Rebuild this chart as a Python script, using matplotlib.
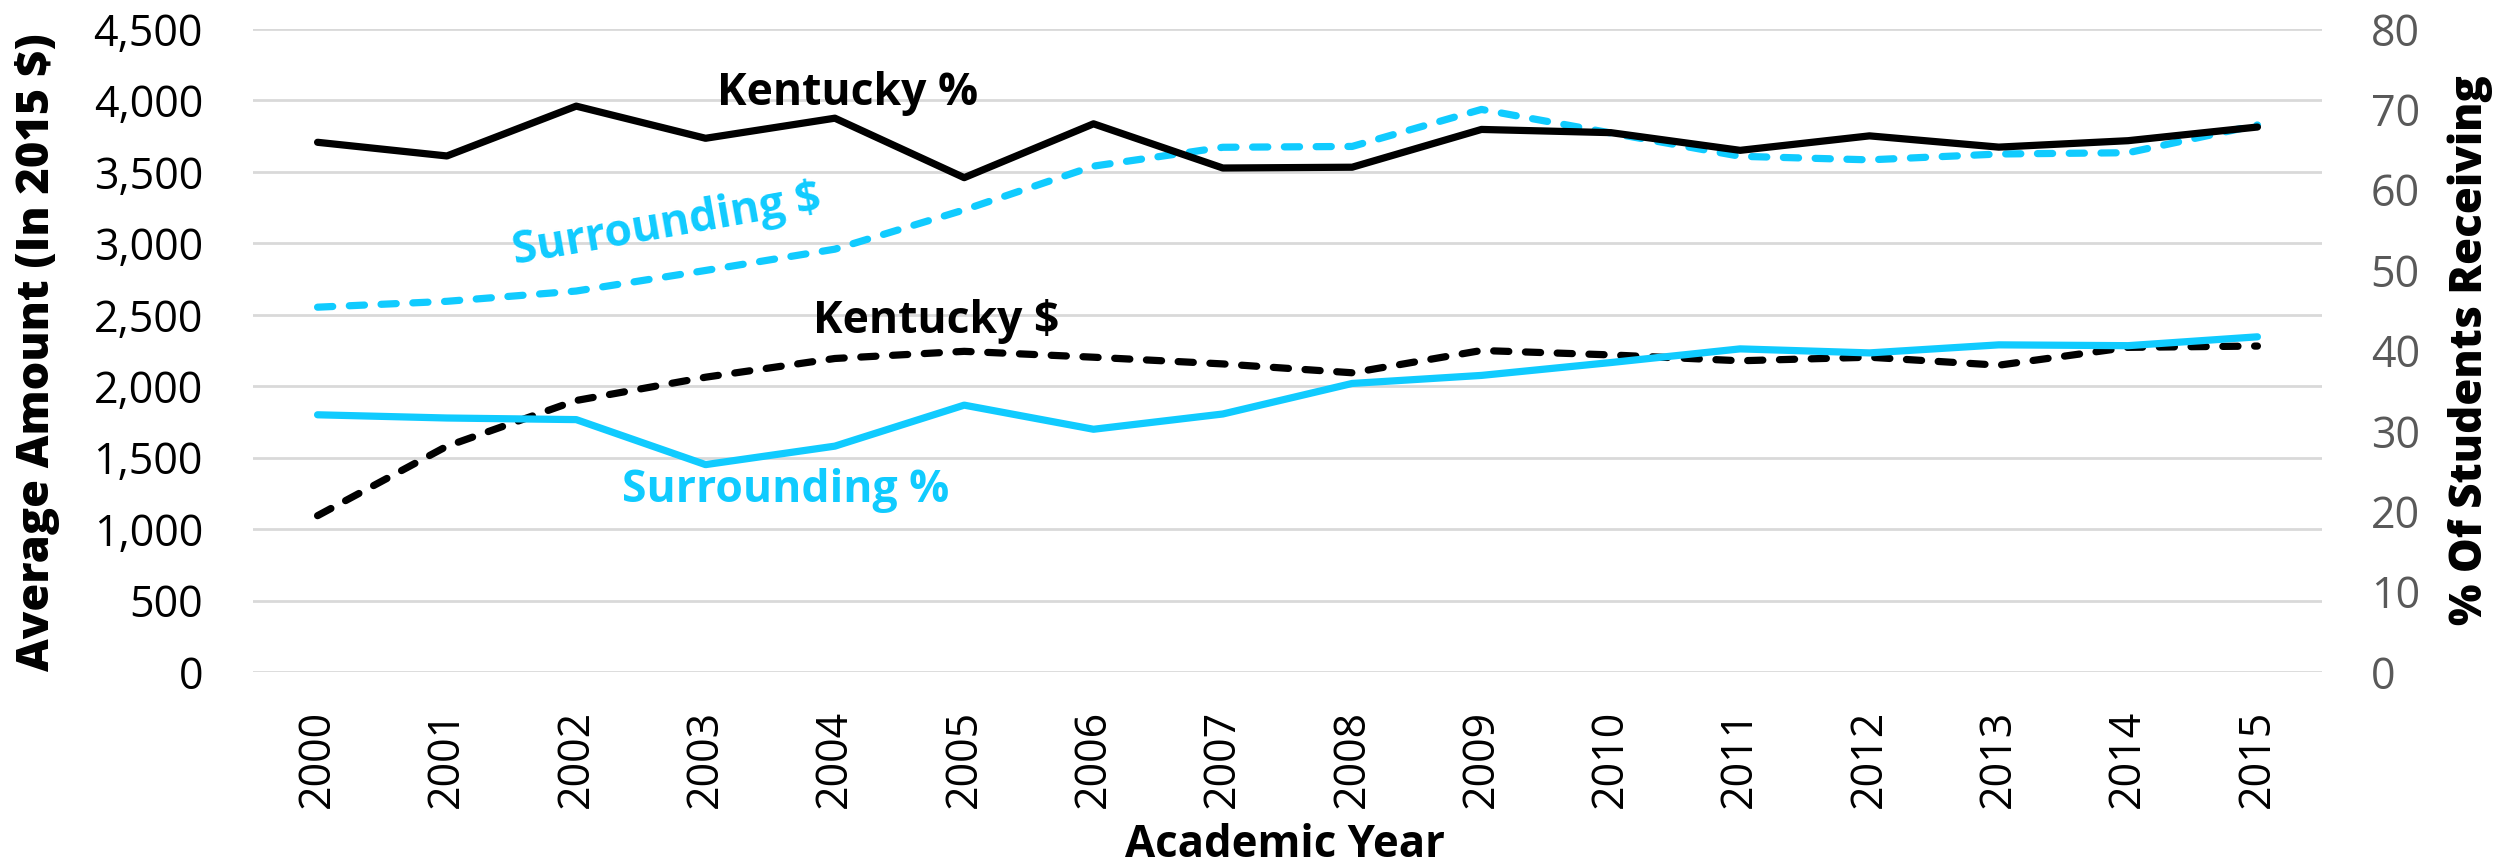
import matplotlib
matplotlib.use("Agg")
from matplotlib import pyplot as plt
from matplotlib.ticker import FuncFormatter

# data
years = ['2000', '2001', '2002', '2003', '2004', '2005', '2006', '2007',
         '2008', '2009', '2010', '2011', '2012', '2013', '2014', '2015']
kentucky_pct = [65.9, 64.2, 70.4, 66.4, 68.9, 61.5, 68.2, 62.7,
                62.8, 67.5, 67.1, 64.9, 66.7, 65.3, 66.1, 67.8]
surrounding_amt = [2553, 2594, 2666, 2810, 2959, 3234, 3540, 3672,
                   3678, 3937, 3772, 3609, 3584, 3625, 3634, 3828]
kentucky_amt = [1094, 1580, 1900, 2063, 2194, 2244, 2203, 2156,
                2094, 2250, 2219, 2178, 2203, 2147, 2272, 2281]
surrounding_pct = [32.0, 31.6, 31.4, 25.8, 28.1, 33.2, 30.2, 32.1,
                   35.9, 36.9, 38.5, 40.2, 39.7, 40.7, 40.6, 41.7]

left_ticks = [0, 500, 1000, 1500, 2000, 2500, 3000, 3500, 4000, 4500]
right_ticks = [0, 10, 20, 30, 40, 50, 60, 70, 80]

CYAN = '#10CBFF'
FONT = 'Open Sans'

fig = plt.figure(figsize=(25.09, 8.67), dpi=100)
ax = fig.add_axes([0.1008, 0.2249, 0.8247, 0.7417])
ax2 = ax.twinx()

x = list(range(len(years)))
lw = 5.2

# dollar series on the left axis
ax.plot(x, surrounding_amt, color=CYAN, lw=lw, dashes=(2.1, 2.3),
        dash_capstyle='round', zorder=3)
ax.plot(x, kentucky_amt, color='black', lw=lw, dashes=(2.1, 2.3),
        dash_capstyle='round', zorder=3)
# percent series on the right axis
ax2.plot(x, kentucky_pct, color='black', lw=lw, solid_capstyle='round', zorder=3)
ax2.plot(x, surrounding_pct, color=CYAN, lw=lw, solid_capstyle='round', zorder=3)

ax.set_xlim(-0.5, len(years) - 0.5)
ax.set_ylim(0, 4500)
ax2.set_ylim(0, 80)
ax.set_yticks(left_ticks)
ax2.set_yticks(right_ticks)
ax.yaxis.set_major_formatter(FuncFormatter(lambda v, p: '{:,.0f}'.format(v)))
ax.set_xticks(x)
ax.set_xticklabels(years, rotation=90)

ax.grid(axis='y', color='#D9D9D9', lw=2)
ax.set_axisbelow(True)
for a in (ax, ax2):
    for s in a.spines.values():
        s.set_visible(False)
    a.tick_params(length=0)

ax.tick_params(axis='y', pad=36, labelsize=31, labelcolor='black')
ax.tick_params(axis='x', pad=27, labelsize=31, labelcolor='black')
ax2.tick_params(axis='y', pad=35, labelsize=31, labelcolor='#595959')
for lab in ax.get_yticklabels() + ax.get_xticklabels() + ax2.get_yticklabels():
    lab.set_family(FONT)

# axis titles
fig.text(0.0150, 0.594, 'Average Amount (In 2015 $)', rotation=90, ha='center',
         va='center', fontsize=32.5, fontweight='heavy', family=FONT)
fig.text(0.9844, 0.596, '% Of Students Receiving', rotation=90, ha='center',
         va='center', fontsize=31.5, fontweight='heavy', family=FONT)
fig.text(0.512, 0.025, 'Academic Year', ha='center', va='center',
         fontsize=31.5, fontweight='bold', family=FONT)

# inline series labels
ax.text(4.10, 4050, 'Kentucky %', ha='center', va='center', fontsize=32,
        fontweight='bold', family=FONT, color='black')
ax.text(2.70, 3121, 'Surrounding $', ha='center', va='center', fontsize=32,
        fontweight='bold', family=FONT, color=CYAN, rotation=10)
ax.text(4.78, 2456, 'Kentucky $', ha='center', va='center', fontsize=32,
        fontweight='bold', family=FONT, color='black')
ax.text(3.62, 1267, 'Surrounding %', ha='center', va='center', fontsize=32,
        fontweight='bold', family=FONT, color=CYAN)

fig.savefig('out.png', dpi=100)
